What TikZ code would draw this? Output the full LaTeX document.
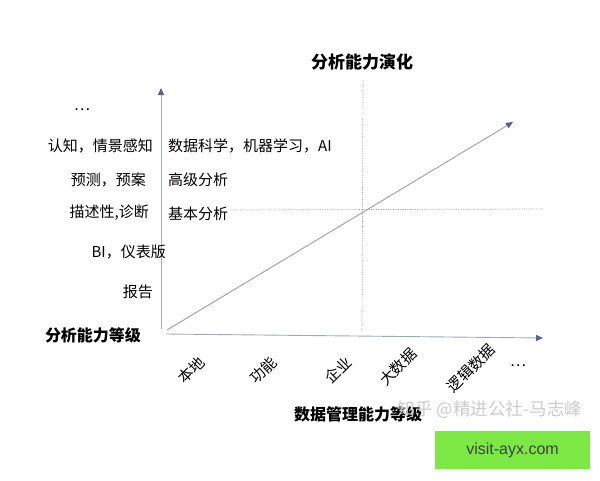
\documentclass[tikz,border=0pt]{standalone}
\usepackage{fontspec}
\setmainfont{Noto Sans CJK SC}
\newfontfamily\webfont{Liberation Sans}
\usetikzlibrary{arrows.meta}
\definecolor{axisgray}{HTML}{A3AAB3}
\definecolor{tipblue}{HTML}{4F6490}
\definecolor{adgreen}{HTML}{7BE843}
\begin{document}
\begin{tikzpicture}[x=1pt, y=-1pt, axis/.style={draw=axisgray, line width=.9pt, -{Triangle[length=7pt, width=6pt, fill=tipblue, color=tipblue]}}, guide/.style={draw=gray!80, densely dotted, line width=.7pt}]
	\tikzstyle{lbl} = [font=\fontsize{15}{17}\selectfont, inner sep=0pt]
	\tikzstyle{heading} = [font=\fontsize{16}{18}\selectfont\bfseries, inner sep=0pt]
	\tikzstyle{tick} = [lbl, rotate=45]
	\useasboundingbox (0,0) rectangle (600,480);
	% axes
	\coordinate (origin) at (161,329);
	\coordinate (ytop) at (161,88);
	\coordinate (xstart) at (166,334);
	\coordinate (xend) at (543,338);
	\coordinate (dstart) at (167,330);
	\coordinate (dend) at (513,122);
	\coordinate (vtop) at (363,80);
	\coordinate (vbot) at (362,332);
	\coordinate (hleft) at (230,210);
	\coordinate (hright) at (542,209);
	\draw[guide] (vtop) -- (vbot);
	\draw[guide] (hleft) -- (hright);
	\draw[axis] (origin) -- (ytop);
	\draw[axis] (xstart) -- (xend);
	\draw[axis, draw=gray!75] (dstart) -- (dend);
	% title and axis names
	\node[heading, font=\fontsize{17}{19}\selectfont\bfseries] (title) at (362,62) {分析能力演化};
	\node[heading] (ylabel) at (93,335) {分析能力等级};
	\node[heading] (xlabel) at (358,414) {数据管理能力等级};
	% analysis levels
	\node[lbl] (ydots) at (82,110) {…};
	\node[lbl, anchor=east] (cognition) at (153,146) {认知，情景感知};
	\node[lbl, anchor=east] (predict) at (146,180) {预测，预案};
	\node[lbl, anchor=east] (describe) at (149,213) {描述性,诊断};
	\node[lbl, anchor=east] (bi) at (166,252) {BI，仪表版};
	\node[lbl, anchor=east] (report) at (153,292) {报告};
	\node[lbl, anchor=west] (science) at (168,146) {数据科学，机器学习，AI};
	\node[lbl, anchor=west] (advanced) at (168,180) {高级分析};
	\node[lbl, anchor=west] (basic) at (168,214) {基本分析};
	% data management levels
	\node[tick] (local) at (191,370) {本地};
	\node[tick] (function) at (263,370) {功能};
	\node[tick] (enterprise) at (338,370) {企业};
	\node[tick] (bigdata) at (398,367) {大数据};
	\node[tick] (logical) at (471,368) {逻辑数据};
	\node[lbl] (xdots) at (518,366) {…};
	% watermark
	\node[lbl, text=gray!40, font=\fontsize{17.5}{19}\selectfont] (mark) at (490,410) {知乎 @精进公社-马志峰};
	\node[fill=adgreen, minimum width=155pt, minimum height=38pt, inner sep=0pt, text=black!75, font=\webfont\fontsize{16}{18}\selectfont] (site) at (512.5,450) {visit-ayx.com};
\end{tikzpicture}
\end{document}
